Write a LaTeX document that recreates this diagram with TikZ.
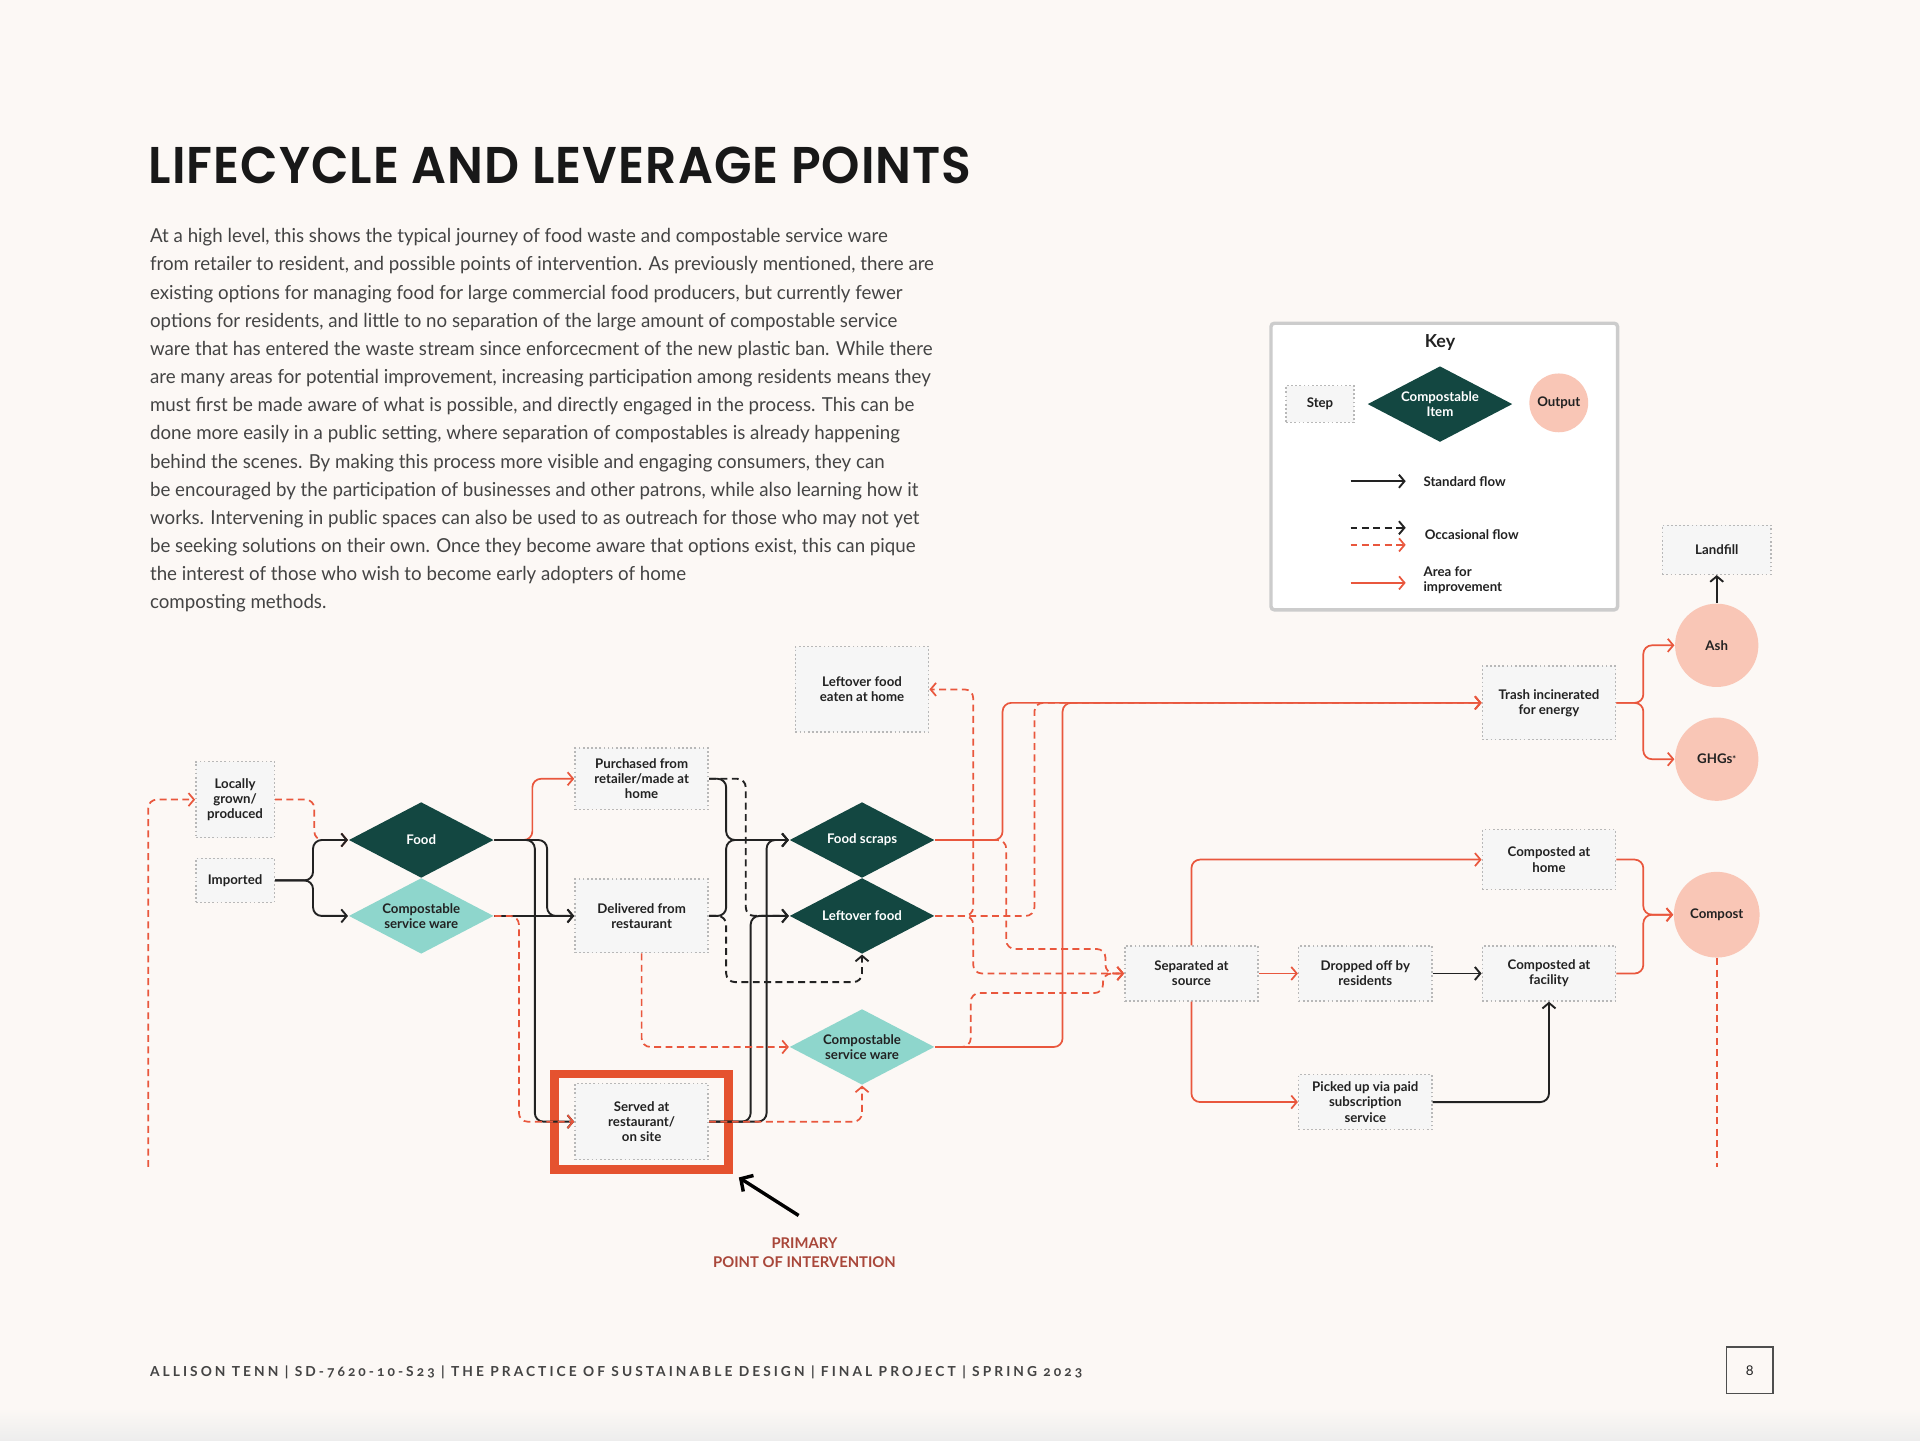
\documentclass[tikz,border=0pt]{standalone}
\usepackage{fontspec}
\usepackage{tikz}
\usetikzlibrary{arrows.meta, positioning, shapes.geometric, fit, calc}

\setmainfont{Lato}
\newfontfamily\titlefont{Poppins SemiBold}[FakeStretch=0.945, LetterSpace=2]
\newfontfamily\bodyfont{Lato}[FakeStretch=0.97]
\newfontfamily\footfont{Lato}[LetterSpace=22, Numbers=OldStyle]
\newcommand{\lblfont}{\bfseries\fontsize{3.85}{4.4}\selectfont}

\definecolor{pagebg}{HTML}{FCF8F5}
\definecolor{pinegreen}{HTML}{134741}
\definecolor{seafoam}{HTML}{8ED6CC}
\definecolor{peach}{HTML}{F9C6B6}
\definecolor{fixred}{HTML}{E9573D}
\definecolor{framered}{HTML}{E5522F}
\definecolor{rusttext}{HTML}{A9473A}
\definecolor{inkblack}{HTML}{222222}
\definecolor{bodyink}{HTML}{444444}
\definecolor{boxfill}{HTML}{F6F6F6}
\definecolor{boxline}{HTML}{B8B8B8}

\begin{document}
\begin{tikzpicture}[
  x=0.0125cm, y=-0.0125cm,
  >={Straight Barb[length=1.6pt,width=3.8pt]},
  stepbox/.style={draw=boxline, fill=boxfill, line width=0.45pt, dash pattern=on 0.5pt off 0.7pt,
    minimum width=1.36cm, align=center, inner sep=1pt, font=\lblfont, text=inkblack},
  item/.style={diamond, fill=pinegreen, text=white, aspect=1.9, inner sep=0pt,
    minimum width=1.48cm, minimum height=0.775cm, align=center, font=\lblfont},
  ware/.style={item, fill=seafoam, text=inkblack},
  output/.style={circle, fill=peach, minimum size=0.85cm, inner sep=0pt, font=\lblfont, text=inkblack},
  flow/.style={->, draw=inkblack, line width=0.55pt, rounded corners=2.5pt},
  occflow/.style={flow, dash pattern=on 2pt off 1.3pt},
  fix/.style={->, draw=fixred, line width=0.5pt, rounded corners=2.5pt},
  occfix/.style={fix, dash pattern=on 2pt off 1.3pt},
  keytext/.style={font=\lblfont, align=left, text=inkblack, inner sep=0pt},
]

\useasboundingbox (0,0) rectangle (1568,1176);
\fill[pagebg] (0,0) rectangle (1568,1176);
\shade[top color=pagebg, bottom color=black!7] (0,1150) rectangle (1568,1176);

% --- Header ---
\node[font=\titlefont\fontsize{15}{18}\selectfont, text=inkblack!70!black, anchor=base west, inner sep=0pt] (title)
  at (121,150) {LIFECYCLE AND LEVERAGE POINTS};
\node[font=\bodyfont\fontsize{5.6}{8.18}\selectfont, text=bodyink, align=left, anchor=north west, inner sep=0pt] (intro)
  at (122,186) {At a high level, this shows the typical journey of food waste and compostable service ware\\
from retailer to resident, and possible points of intervention. As previously mentioned, there are\\
existing options for managing food for large commercial food producers, but currently fewer\\
options for residents, and little to no separation of the large amount of compostable service\\
ware that has entered the waste stream since enforcecment of the new plastic ban. While there\\
are many areas for potential improvement, increasing participation among residents means they\\
must first be made aware of what is possible, and directly engaged in the process. This can be\\
done more easily in a public setting, where separation of compostables is already happening\\
behind the scenes. By making this process more visible and engaging consumers, they can\\
be encouraged by the participation of businesses and other patrons, while also learning how it\\
works. Intervening in public spaces can also be used to as outreach for those who may not yet\\
be seeking solutions on their own. Once they become aware that options exist, this can pique\\
the interest of those who wish to become early adopters of home\\
composting methods.};

% --- Key ---
\node[draw=black!20, line width=1pt, fill=white, rounded corners=1pt,
  minimum width=3.5375cm, minimum height=2.925cm] (key) at (1179.5,381) {};
\node[font=\bfseries\fontsize{5.2}{6}\selectfont, text=inkblack] (keytitle) at (1176,280) {Key};
\node[stepbox, minimum width=0.69cm, minimum height=0.375cm] (keystep) at (1078,330) {Step};
\node[item] (keyitem) at (1176,330) {Compostable\\Item};
\node[output, minimum size=0.6cm] (keyout) at (1273,329) {Output};
\node[keytext, anchor=west] (lgstd) at (1162,393) {Standard flow};
\node[keytext, anchor=west] (lgocc) at (1163,437) {Occasional flow};
\node[keytext, anchor=west] (lgfix) at (1162,474) {Area for\\improvement};
\draw[flow] ([xshift=-0.7375cm]lgstd.west) -- ++(45,0);
\draw[occflow] ([xshift=-0.75cm,yshift=0.075cm]lgocc.west) -- ++(45,0);
\draw[occfix] ([xshift=-0.75cm,yshift=-0.1cm]lgocc.west) -- ++(45,0);
\draw[fix] ([xshift=-0.7375cm,yshift=-0.025cm]lgfix.west) -- ++(45,0);

% --- Sources ---
\node[stepbox, minimum width=0.8cm, minimum height=0.775cm] (locally) at (192,653) {Locally\\grown/\\produced};
\node[stepbox, minimum width=0.8cm, minimum height=0.45cm] (imported) at (192,719) {Imported};
\node[item] (food) at (344,686) {Food};
\node[ware] (cswA) at (344,748) {Compostable\\service ware};

% --- Purchase ---
\node[stepbox, minimum height=0.625cm] (purchased) at (524,636) {Purchased from\\retailer/made at\\home};
\node[stepbox, minimum height=0.75cm] (delivered) at (524,748) {Delivered from\\restaurant};
\node[stepbox, minimum height=0.775cm] (served) at (524,916) {Served at\\restaurant/\\on site};
\node[draw=framered, line width=2.5pt, fit=(served), inner xsep=0.2cm, inner ysep=0.09cm] (focus) {};

% --- Waste items ---
\node[stepbox, minimum height=0.875cm] (eaten) at (704,563) {Leftover food\\eaten at home};
\node[item] (scraps) at (704,686) {Food scraps};
\node[item] (leftover) at (704,748) {Leftover food};
\node[ware] (cswB) at (704,855) {Compostable\\service ware};

% --- Disposal ---
\node[stepbox, minimum height=0.56cm] (separated) at (973,795) {Separated at\\source};
\node[stepbox, minimum height=0.56cm] (dropped) at (1115,795) {Dropped off by\\residents};
\node[stepbox, minimum height=0.56cm] (picked) at (1115,900) {Picked up via paid\\subscription\\service};
\node[stepbox, minimum height=0.75cm] (trash) at (1265,574) {Trash incinerated\\for energy};
\node[stepbox, minimum height=0.61cm] (comphome) at (1265,702) {Composted at\\home};
\node[stepbox, minimum height=0.56cm] (facility) at (1265,795) {Composted at\\facility};

% --- Outputs ---
\node[stepbox, minimum width=1.11cm, minimum height=0.5cm] (landfill) at (1402,449) {Landfill};
\node[output] (ash) at (1402,527) {Ash};
\node[output] (ghg) at (1402,620) {GHGs\raisebox{0.5pt}{\fontsize{2.6}{3}\selectfont*}};
\node[output, minimum size=0.875cm] (compost) at (1402,747) {Compost};
\coordinate (loopin) at (121,953);
\coordinate (loopout) at (1402,953);

% --- Flows: sourcing ---
\draw[occfix] (loopin) |- (locally.west);
\draw[occfix] (locally.east) -- ++(32,0) |- (food.west);
\draw[flow] (imported.east) -- ++(31,0) |- (food.west);
\draw[flow] (imported.east) -- ++(31,0) |- (cswA.west);
\draw[fix] (food.east) -- ++(31,0) |- (purchased.west);
\draw[flow] (food.east) -- ++(43,0) |- (delivered.west);
\draw[flow] (food.east) -- ++(33,0) |- (served.west);
\draw[flow] (cswA.east) -- (delivered.west);
\draw[occfix] (cswA.east) -- ++(20,0) |- (served.west);

% --- Flows: use ---
\draw[flow] (purchased.east) -- ++(14,0) |- (scraps.west);
\draw[flow] (delivered.east) -- ++(14,0) |- (scraps.west);
\draw[occflow] (purchased.east) -- ++(30,0) |- (leftover.west);
\draw[occflow] (delivered.east) -- ++(14,0) -- ++(0,54) -| (leftover.south);
\draw[flow] (served.east) -- ++(34,0) |- (leftover.west);
\draw[flow] (served.east) -- ++(47,0) |- (scraps.west);
\draw[occfix] (delivered.south) |- (cswB.west);
\draw[occfix] (served.east) -| (cswB.south);

% --- Flows: disposal ---
\draw[fix] (scraps.east) -- ++(55,0) |- (trash.west);
\draw[occfix] (scraps.east) -- ++(58,0) -- ++(0,89) -- ++(81,0) |- (separated.west);
\draw[occfix] (leftover.east) -- ++(81,0) |- (trash.west);
\draw[occfix] (leftover.east) -- ++(31,0) |- (eaten.east);
\draw[occfix] (leftover.east) -- ++(31,0) |- (separated.west);
\draw[fix] (cswB.east) -- ++(104,0) |- (trash.west);
\draw[occfix] (cswB.east) -- ++(29,0) -- ++(0,-44) -- ++(108,0) |- (separated.west);
\draw[fix] (separated.east) -- (dropped.west);
\draw[flow] (dropped.east) -- (facility.west);
\draw[fix] (separated.north) |- (comphome.west);
\draw[fix] (separated.south) |- (picked.west);
\draw[flow] (picked.east) -| (facility.south);

% --- Flows: outputs ---
\draw[fix] (trash.east) -- ++(22,0) |- (ash.west);
\draw[fix] (trash.east) -- ++(22,0) |- (ghg.west);
\draw[flow] (ash.north) -- (landfill.south);
\draw[fix] (comphome.east) -- ++(22,0) |- (compost.west);
\draw[fix] (facility.east) -- ++(22,0) |- (compost.west);
\draw[occfix, -] (compost.south) -- (loopout);

% --- Intervention callout ---
\node[font=\bfseries\fontsize{4.3}{5.7}\selectfont, text=rusttext, align=center] (pri) at (657,1023)
  {PRIMARY\\POINT OF INTERVENTION};
\draw[-{Straight Barb[length=2.6pt,width=5.5pt]}, line width=1pt, draw=black]
  ([xshift=-0.06cm,yshift=0.1cm]pri.north) -- ([xshift=0.06cm,yshift=-0.04cm]focus.south east);

% --- Footer ---
\node[font=\footfont\bfseries\fontsize{4}{5}\selectfont, text=bodyink, anchor=base west, inner sep=0pt] (footer)
  at (122,1124) {ALLISON TENN | SD-7620-10-S23 | THE PRACTICE OF SUSTAINABLE DESIGN | FINAL PROJECT | SPRING 2023};
\node[draw=inkblack!80, line width=0.5pt, minimum width=0.475cm, minimum height=0.475cm, inner sep=0pt,
  font=\fontsize{3.9}{5}\selectfont, text=inkblack] (pageno) at (1429,1119) {8};

\end{tikzpicture}
\end{document}
